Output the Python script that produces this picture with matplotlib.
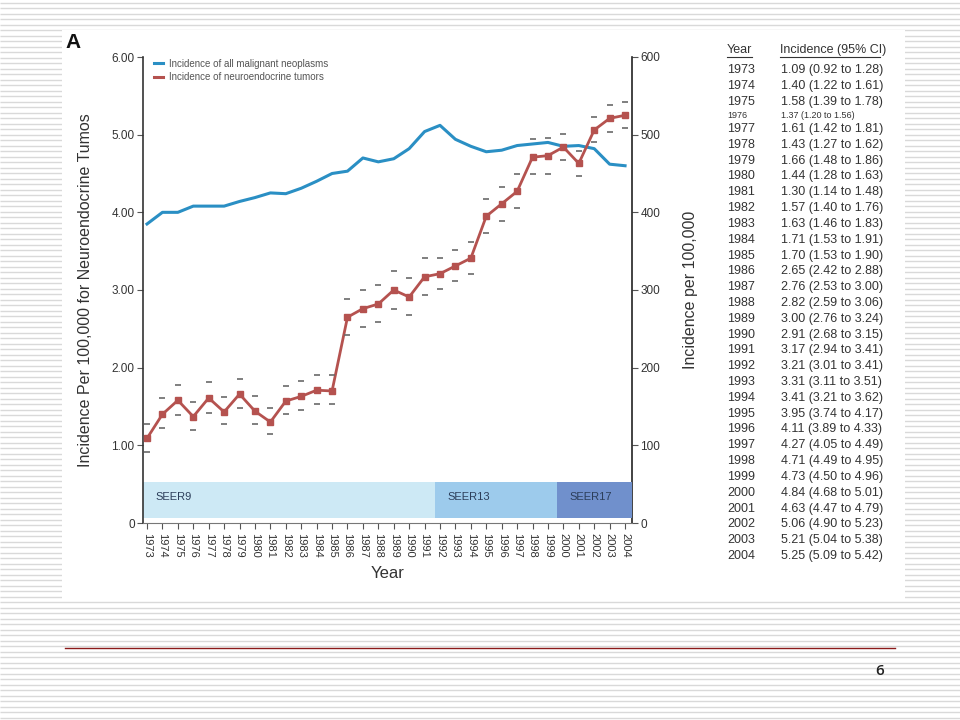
import matplotlib
matplotlib.use("Agg")
import matplotlib.pyplot as plt
from matplotlib.lines import Line2D
from matplotlib.patches import Rectangle
import numpy as np

plt.rcParams['font.family'] = ['Liberation Sans', 'DejaVu Sans']

# ---------------- data ----------------
years = list(range(1973, 2005))
net_incidence = [1.09, 1.40, 1.58, 1.37, 1.61, 1.43, 1.66, 1.44, 1.30, 1.57, 1.63, 1.71,
                 1.70, 2.65, 2.76, 2.82, 3.00, 2.91, 3.17, 3.21, 3.31, 3.41, 3.95, 4.11,
                 4.27, 4.71, 4.73, 4.84, 4.63, 5.06, 5.21, 5.25]
net_ci_low = [0.92, 1.22, 1.39, 1.20, 1.42, 1.27, 1.48, 1.28, 1.14, 1.40, 1.46, 1.53,
              1.53, 2.42, 2.53, 2.59, 2.76, 2.68, 2.94, 3.01, 3.11, 3.21, 3.74, 3.89,
              4.05, 4.49, 4.50, 4.68, 4.47, 4.90, 5.04, 5.09]
net_ci_high = [1.28, 1.61, 1.78, 1.56, 1.81, 1.62, 1.86, 1.63, 1.48, 1.76, 1.83, 1.91,
               1.90, 2.88, 3.00, 3.06, 3.24, 3.15, 3.41, 3.41, 3.51, 3.62, 4.17, 4.33,
               4.49, 4.95, 4.96, 5.01, 4.79, 5.23, 5.38, 5.42]
all_malignant = [385, 400, 400, 408, 408, 408, 414, 419, 425, 424, 431, 440, 450, 453,
                 470, 465, 469, 482, 504, 512, 494, 485, 478, 480, 486, 488, 490, 485,
                 486, 482, 462, 460]
band_labels = ["SEER9", "SEER13", "SEER17"]
band_starts = [1972.74, 1991.7, 1999.6]
band_ends = [1991.7, 1999.6, 2004.45]
band_colors = ["#cde9f5", "#9dcbec", "#7090cc"]
left_ticks = [0, 1, 2, 3, 4, 5, 6]
left_ticklabels = ["0", "1.00", "2.00", "3.00", "4.00", "5.00", "6.00"]
right_ticks = [0, 100, 200, 300, 400, 500, 600]

W, H = 960, 720
fig = plt.figure(figsize=(9.6, 7.2), dpi=100)

def fx(x):
    return x / W

def fy(y):
    return 1 - y / H

# ---------------- slide background ----------------
bg = fig.add_axes([0, 0, 1, 1], zorder=-10)
bg.set_xlim(0, W)
bg.set_ylim(H, 0)
bg.axis('off')
for yy in np.arange(2.5, H, 5.5):
    bg.plot([0, W], [yy, yy], color='#d9d9d9', lw=1.0, solid_capstyle='butt')
bg.add_patch(Rectangle((62, 30), 905 - 62, 600 - 30, facecolor='white', edgecolor='none', zorder=3))
bg.plot([65, 895], [648, 648], color='#8b1a1a', lw=1.0, zorder=4)
bg.text(880, 671, "6", ha='center', va='center', fontsize=11, color='#222222', zorder=4,
        family=['Open Sans', 'DejaVu Sans'], fontweight='semibold')

# ---------------- chart ----------------
ax = fig.add_axes([fx(143), fy(523), fx(632 - 143), (523 - 57) / H])
ax2 = ax.twinx()
ax.set_zorder(2)
ax.patch.set_visible(False)

ax.set_xlim(1972.74, 2004.45)
ax.set_ylim(0, 6.0)
ax2.set_ylim(0, 600)

# SEER bands
for lab, s, e, c in zip(band_labels, band_starts, band_ends, band_colors):
    ax.bar(s, 0.47, width=e - s, bottom=0.06, align='edge', color=c, edgecolor='none', zorder=1)
    ax.text(s + 0.8, 0.34, lab, fontsize=8, color='#2c3e5a', va='center', ha='left', zorder=2)

blue = '#2a8fc4'
red = '#b5524f'
# all malignant neoplasms (right axis)
ax2.plot(years, all_malignant, color=blue, lw=2.2, zorder=3)

# NET incidence with CI
ax.plot(years, net_incidence, color=red, lw=2.0, marker='s', markersize=4, zorder=4)
ax.plot(years, net_ci_low, ls='none', marker='_', markersize=5, color='#6a6a6a', mew=1.2, zorder=4)
ax.plot(years, net_ci_high, ls='none', marker='_', markersize=5, color='#6a6a6a', mew=1.2, zorder=4)

# axes styling
ax.set_xticks(years)
ax.set_xticklabels([str(y) for y in years], rotation=-90, fontsize=8, color='#333333')
ax.set_yticks(left_ticks)
ax.set_yticklabels(left_ticklabels, fontsize=8.5, color='#333333')
ax2.set_yticks(right_ticks)
ax2.set_yticklabels([str(v) for v in right_ticks], fontsize=8.5, color='#333333')
ax.tick_params(axis='x', length=4, width=0.8, color='#555555', pad=3)
ax.tick_params(axis='y', length=4, width=0.8, color='#555555', pad=2)
ax2.tick_params(axis='y', length=4, width=0.8, color='#555555', pad=2)
for a in (ax, ax2):
    a.spines['top'].set_visible(False)
ax.spines['right'].set_visible(False)
ax2.spines['left'].set_visible(False)
ax2.spines['bottom'].set_visible(False)
ax.spines['left'].set_color('#333333')
ax2.spines['right'].set_color('#222222')
ax2.spines['right'].set_linewidth(1.2)
ax.spines['left'].set_linewidth(1.2)
ax.spines['bottom'].set_color('#777777')

ax.set_xlabel("Year", fontsize=12, color='#333333', labelpad=6)
ax.set_ylabel("Incidence Per 100,000 for Neuroendocrine Tumos", fontsize=11.5, color='#333333')
ax.yaxis.set_label_coords(-0.103, 0.5)
ax2.set_ylabel("Incidence per 100,000", fontsize=11.5, color='#333333')
ax2.yaxis.set_label_coords(1.104, 0.5)

h_blue = Line2D([], [], color=blue, lw=2.2)
h_red = Line2D([], [], color=red, lw=2.2)
leg = ax.legend([h_blue, h_red],
                ["Incidence of all malignant neoplasms", "Incidence of neuroendocrine tumors"],
                loc='upper left', bbox_to_anchor=(0.005, 1.015), frameon=False,
                fontsize=7, handlelength=0.9, handletextpad=0.6, labelspacing=0.35)
for t in leg.get_texts():
    t.set_color('#555555')

fig.text(fx(65), fy(43), "A", fontsize=15, fontweight='bold', color='#111111',
         ha='left', va='center')

# ---------------- table ----------------
tcolor = '#333333'
fig.text(fx(727), fy(50), "Year", fontsize=9, color=tcolor, ha='left', va='center')
fig.text(fx(780), fy(50), "Incidence (95% CI)", fontsize=9, color=tcolor, ha='left', va='center')
fig.add_artist(Line2D([fx(727), fx(752)], [fy(57), fy(57)], color=tcolor, lw=0.8))
fig.add_artist(Line2D([fx(780), fx(880)], [fy(57), fy(57)], color=tcolor, lw=0.8))

row_y = {}
for i, yr in enumerate(years):
    if yr <= 1975:
        row_y[yr] = 70 + 16 * i
    elif yr == 1976:
        row_y[yr] = 115.5
    else:
        row_y[yr] = 129 + (556 - 129) / 27 * (yr - 1977)

for i, yr in enumerate(years):
    yy = row_y[yr]
    fs = 9 if yr != 1976 else 6.5
    fig.text(fx(727), fy(yy), str(yr), fontsize=fs, color=tcolor, ha='left', va='center')
    fig.text(fx(781), fy(yy),
             f"{net_incidence[i]:.2f} ({net_ci_low[i]:.2f} to {net_ci_high[i]:.2f})",
             fontsize=fs, color=tcolor, ha='left', va='center')

fig.savefig("out.png", dpi=100)
